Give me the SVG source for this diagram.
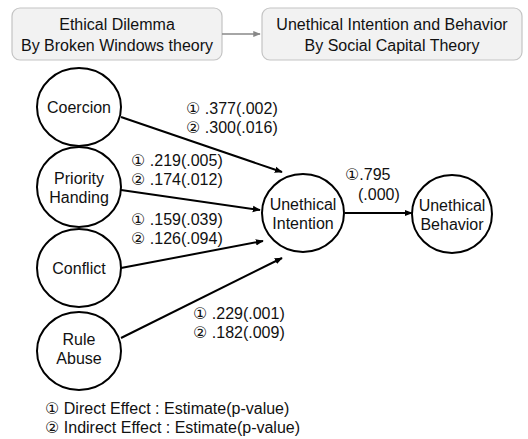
<svg xmlns="http://www.w3.org/2000/svg" width="528" height="439" viewBox="0 0 528 439">
<style>
text{font-family:"Liberation Sans","DejaVu Sans",sans-serif;font-size:16px;fill:#111}
.c{text-anchor:middle}
.node{fill:#fff;stroke:#000;stroke-width:2}
.box{fill:#f2f2f2;stroke:#c4c4c4;stroke-width:1.2}
.edge{stroke:#000;stroke-width:2;fill:none;marker-end:url(#ah)}
</style>
<defs>
<marker id="ah" viewBox="0 0 10 10" refX="9" refY="5" markerWidth="4" markerHeight="4" orient="auto" markerUnits="strokeWidth"><path d="M0,1 L10,5 L0,9 z" fill="#000"/></marker>
<marker id="ahg" viewBox="0 0 10 10" refX="9" refY="5" markerWidth="5" markerHeight="5" orient="auto" markerUnits="strokeWidth"><path d="M0,1 L10,5 L0,9 z" fill="#888"/></marker>
</defs>
<g id="header-left"><rect class="box" x="12" y="8" width="210" height="52" rx="8"/><text class="c" x="117" y="30">Ethical Dilemma</text><text class="c" x="117" y="51">By Broken Windows theory</text></g>
<g id="header-right"><rect class="box" x="262" y="8" width="260" height="52" rx="8"/><text class="c" x="392" y="30">Unethical Intention and Behavior</text><text class="c" x="392" y="51">By Social Capital Theory</text></g>
<g id="connectors">
<line x1="222" y1="34" x2="260" y2="34" stroke="#888" stroke-width="1.5" marker-end="url(#ahg)"/>
<line class="edge" x1="121" y1="117" x2="282" y2="172"/>
<line class="edge" x1="121" y1="190" x2="260" y2="210"/>
<line class="edge" x1="121" y1="268" x2="263" y2="241"/>
<line class="edge" x1="121" y1="338" x2="282" y2="258"/>
<line class="edge" x1="345" y1="213" x2="412" y2="213"/>
</g>
<g id="coercion"><ellipse class="node" cx="79" cy="107" rx="42" ry="39"/><text class="c" x="79" y="113">Coercion</text></g>
<g id="priority"><ellipse class="node" cx="79" cy="187" rx="42" ry="40"/><text class="c" x="79" y="184">Priority</text><text class="c" x="79" y="203">Handing</text></g>
<g id="conflict"><ellipse class="node" cx="79" cy="268" rx="42" ry="39"/><text class="c" x="79" y="274">Conflict</text></g>
<g id="rule-abuse"><ellipse class="node" cx="79" cy="351" rx="42" ry="39"/><text class="c" x="79" y="345">Rule</text><text class="c" x="79" y="364">Abuse</text></g>
<g id="intention"><ellipse class="node" cx="303" cy="213" rx="41" ry="39"/><text class="c" x="303" y="210">Unethical</text><text class="c" x="303" y="229">Intention</text></g>
<g id="behavior"><ellipse class="node" cx="452" cy="214" rx="40" ry="39"/><text class="c" x="452" y="211">Unethical</text><text class="c" x="452" y="230">Behavior</text></g>
<g id="labels">
<text x="186" y="114">① .377(.002)</text><text x="186" y="133">② .300(.016)</text>
<text x="131" y="166">① .219(.005)</text><text x="131" y="185">② .174(.012)</text>
<text x="131" y="225">① .159(.039)</text><text x="131" y="244">② .126(.094)</text>
<text x="193" y="319">① .229(.001)</text><text x="193" y="338">② .182(.009)</text>
<text x="345" y="180">①.795</text><text x="358" y="200">(.000)</text>
<text x="45" y="414">① Direct Effect : Estimate(p-value)</text>
<text x="45" y="433">② Indirect Effect : Estimate(p-value)</text>
</g>
</svg>
